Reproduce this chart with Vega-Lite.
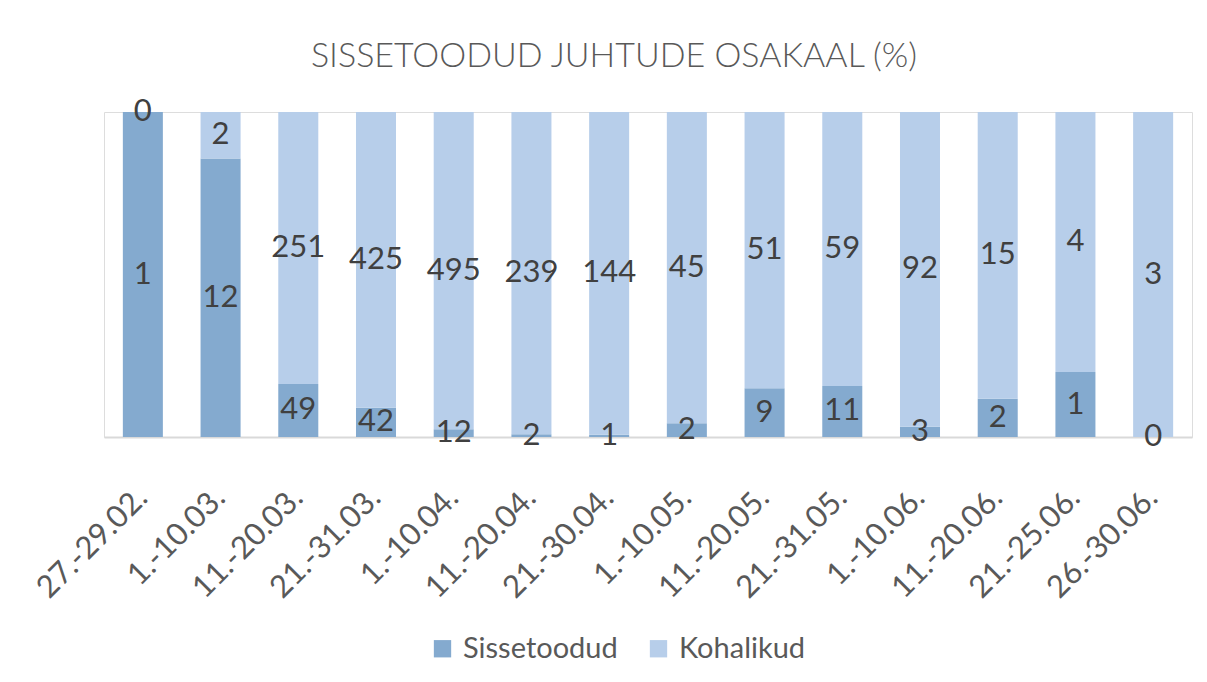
{
  "$schema": "https://vega.github.io/schema/vega-lite/v6.json",
  "width": 1088,
  "height": 325,
  "autosize": {"type": "none"},
  "padding": {"left": 104, "top": 112, "right": 15, "bottom": 245},
  "background": "white",
  "title": {
    "text": "SISSETOODUD JUHTUDE OSAKAAL (%)",
    "font": "Lato",
    "fontWeight": 300,
    "fontSize": 34,
    "color": "#595959",
    "offset": 22,
    "dx": -34
  },
  "data": {
    "values": [
      {"periood": "27.-29.02.", "seeria": "Sissetoodud", "arv": 1},
      {"periood": "27.-29.02.", "seeria": "Kohalikud", "arv": 0},
      {"periood": "1.-10.03.", "seeria": "Sissetoodud", "arv": 12},
      {"periood": "1.-10.03.", "seeria": "Kohalikud", "arv": 2},
      {"periood": "11.-20.03.", "seeria": "Sissetoodud", "arv": 49},
      {"periood": "11.-20.03.", "seeria": "Kohalikud", "arv": 251},
      {"periood": "21.-31.03.", "seeria": "Sissetoodud", "arv": 42},
      {"periood": "21.-31.03.", "seeria": "Kohalikud", "arv": 425},
      {"periood": "1.-10.04.", "seeria": "Sissetoodud", "arv": 12},
      {"periood": "1.-10.04.", "seeria": "Kohalikud", "arv": 495},
      {"periood": "11.-20.04.", "seeria": "Sissetoodud", "arv": 2},
      {"periood": "11.-20.04.", "seeria": "Kohalikud", "arv": 239},
      {"periood": "21.-30.04.", "seeria": "Sissetoodud", "arv": 1},
      {"periood": "21.-30.04.", "seeria": "Kohalikud", "arv": 144},
      {"periood": "1.-10.05.", "seeria": "Sissetoodud", "arv": 2},
      {"periood": "1.-10.05.", "seeria": "Kohalikud", "arv": 45},
      {"periood": "11.-20.05.", "seeria": "Sissetoodud", "arv": 9},
      {"periood": "11.-20.05.", "seeria": "Kohalikud", "arv": 51},
      {"periood": "21.-31.05.", "seeria": "Sissetoodud", "arv": 11},
      {"periood": "21.-31.05.", "seeria": "Kohalikud", "arv": 59},
      {"periood": "1.-10.06.", "seeria": "Sissetoodud", "arv": 3},
      {"periood": "1.-10.06.", "seeria": "Kohalikud", "arv": 92},
      {"periood": "11.-20.06.", "seeria": "Sissetoodud", "arv": 2},
      {"periood": "11.-20.06.", "seeria": "Kohalikud", "arv": 15},
      {"periood": "21.-25.06.", "seeria": "Sissetoodud", "arv": 1},
      {"periood": "21.-25.06.", "seeria": "Kohalikud", "arv": 4},
      {"periood": "26.-30.06.", "seeria": "Sissetoodud", "arv": 0},
      {"periood": "26.-30.06.", "seeria": "Kohalikud", "arv": 3}
    ]
  },
  "transform": [
    {
      "stack": "arv",
      "groupby": ["periood"],
      "sort": [{"field": "seeria", "order": "descending"}],
      "offset": "normalize",
      "as": ["y0", "y1"]
    },
    {"calculate": "(datum.y0 + datum.y1) / 2", "as": "ymid"}
  ],
  "encoding": {
    "x": {
      "field": "periood",
      "type": "ordinal",
      "sort": null,
      "scale": {"paddingInner": 0.485, "paddingOuter": 0.2425},
      "axis": {
        "title": null,
        "labelAngle": -45,
        "labelAlign": "right",
        "labelBaseline": "middle",
        "labelFont": "Lato",
        "labelFontSize": 31,
        "labelColor": "#595959",
        "labelPadding": 56,
        "ticks": false,
        "domainColor": "#D9D9D9",
        "domainWidth": 2,
        "grid": false
      }
    }
  },
  "layer": [
    {
      "mark": {"type": "bar"},
      "encoding": {
        "y": {"field": "y0", "type": "quantitative", "axis": null, "scale": {"domain": [0, 1]}},
        "y2": {"field": "y1"},
        "color": {
          "field": "seeria",
          "type": "nominal",
          "scale": {"domain": ["Sissetoodud", "Kohalikud"], "range": ["#84AACF", "#B7CEEA"]},
          "legend": {
            "title": null,
            "orient": "none",
            "direction": "horizontal",
            "legendX": 324,
            "legendY": 522,
            "symbolType": "square",
            "symbolSize": 300,
            "symbolStrokeWidth": 0,
            "labelFont": "Lato",
            "labelFontSize": 29,
            "labelColor": "#595959",
            "columnPadding": 26,
            "labelOffset": 6
          }
        }
      }
    },
    {
      "mark": {"type": "text", "font": "Lato", "fontSize": 31, "color": "#404040", "baseline": "middle", "align": "center"},
      "encoding": {
        "y": {"field": "ymid", "type": "quantitative"},
        "text": {"field": "arv", "type": "quantitative"}
      }
    }
  ]
}
